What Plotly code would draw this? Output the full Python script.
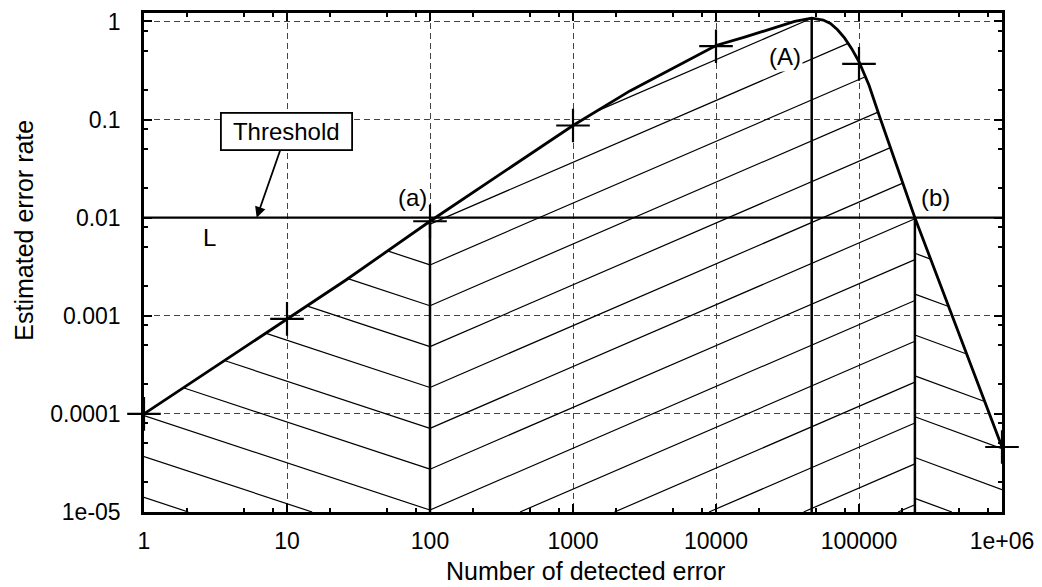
import numpy as np
import plotly.graph_objects as go

# ---------------- data ----------------
curve_x = [1, 10, 26, 100, 500, 1000, 2500, 5600, 10000, 15850, 25100, 35500, 46700,
           56200, 63100, 70800, 79400, 89100, 100000, 117500, 140000, 246000, 1000000]
curve_y = [1e-4, 9.3e-4, 2.33e-3, 9.2e-3, 0.0444, 0.087, 0.196, 0.365, 0.569, 0.692,
           0.851, 1.0, 1.079, 1.035, 0.955, 0.822, 0.676, 0.525, 0.389, 0.224, 0.105,
           0.01, 4.6e-5]

marker_x = [1, 10, 100, 1000, 10000, 100000, 1000000]
marker_y = [1e-4, 9.3e-4, 9.2e-3, 0.087, 0.56, 0.37, 4.6e-5]

threshold = 0.01
x_a = 100        # (a) lower crossing
x_A = 46700      # (A) maximum
x_b = 246000     # (b) upper crossing

x_ticks = [1, 10, 100, 1000, 10000, 100000, 1000000]
x_ticklabels = ["1", "10", "100", "1000", "10000", "100000", "1e+06"]
y_ticks = [1e-5, 1e-4, 1e-3, 1e-2, 1e-1, 1]
y_ticklabels = ["1e-05", "0.0001", "0.001", "0.01", "0.1", "1"]

X_MIN, X_MAX = 1, 1e6
Y_MIN, Y_MAX = 1e-5, 1.22

# ---------------- hatching (computed from the curve) ----------------
cu = np.log10(curve_x)
cv = np.log10(curve_y)
ylo = np.log10(Y_MIN)
SPACING = 0.4164


def hatch(u0, u1, slope, anchor_u, anchor_v):
    U = np.linspace(u0, u1, 6000)
    top = np.interp(U, cu, cv)
    xs, ys = [], []
    for k in range(-40, 40):
        V = anchor_v + slope * (U - anchor_u) + k * SPACING
        mask = (V >= ylo - 1e-9) & (V <= top)
        if mask.sum() < 2:
            continue
        idx = np.where(mask)[0]
        breaks = np.where(np.diff(idx) > 1)[0]
        starts = np.concatenate([[idx[0]], idx[breaks + 1]])
        ends = np.concatenate([idx[breaks], [idx[-1]]])
        for s, e in zip(starts, ends):
            if e - s < 2:
                continue
            xs += [10 ** U[s], 10 ** U[e], None]
            ys += [10 ** V[s], 10 ** V[e], None]
    return xs, ys


ua, ub = np.log10(x_a), np.log10(x_b)
h1x, h1y = hatch(0, ua, -0.481, ua, ylo + 0.02)
h2x, h2y = hatch(ua, ub, 0.630, ua, ylo + 0.02)
h3x, h3y = hatch(ub, 6, -0.536, ub, -2.363)

hx = h1x + h2x + h3x
hy = h1y + h2y + h3y

peak_y = 10 ** float(np.interp(np.log10(x_A), cu, cv))
a_y = 10 ** float(np.interp(ua, cu, cv))

fig = go.Figure()
fig.add_trace(go.Scatter(x=hx, y=hy, mode="lines",
                         line=dict(color="black", width=1.2), hoverinfo="skip"))
fig.add_trace(go.Scatter(x=[x_a, x_a, None, x_A, x_A, None, x_b, x_b],
                         y=[Y_MIN, a_y, None, Y_MIN, peak_y, None, Y_MIN, threshold],
                         mode="lines", line=dict(color="black", width=2.5)))
fig.add_trace(go.Scatter(x=[X_MIN, X_MAX], y=[threshold, threshold], mode="lines",
                         line=dict(color="black", width=2.2)))
fig.add_trace(go.Scatter(x=curve_x, y=curve_y, mode="lines",
                         line=dict(color="black", width=2.8)))
fig.add_trace(go.Scatter(x=marker_x, y=marker_y, mode="markers", cliponaxis=False,
                         marker=dict(symbol="cross-thin", size=24,
                                     line=dict(color="black", width=2.2))))

minor_x = [m * 10 ** d for d in range(0, 6) for m in (2, 5, 8)]
minor_y = [m * 10 ** d for d in range(-5, 0) for m in (2, 5, 8)]

font = "Liberation Sans, Arial, sans-serif"

common = dict(ticks="inside", ticklen=8, tickwidth=1.5, tickcolor="black",
              showline=True, linecolor="black", linewidth=2.5, mirror="allticks",
              showgrid=True, gridcolor="#444444", gridwidth=1, griddash="6px,4px",
              zeroline=False, tickfont=dict(family=font, size=23, color="black"))

fig.update_xaxes(type="log", range=[0, 6], tickvals=x_ticks, ticktext=x_ticklabels,
                 ticklabelstandoff=7,
                 minor=dict(tickvals=minor_x, ticks="inside", ticklen=4,
                            tickcolor="black", tickwidth=1.5, showgrid=False), **common)
fig.update_yaxes(type="log", range=[-5, np.log10(Y_MAX)], tickvals=y_ticks,
                 ticktext=y_ticklabels, ticklabelstandoff=16,
                 minor=dict(tickvals=minor_y, ticks="inside", ticklen=4,
                            tickcolor="black", tickwidth=1.5, showgrid=False), **common)

afont = dict(family=font, size=24, color="black")
L = np.log10
annotations = [
    dict(x=L(76), y=L(0.0159), xref="x", yref="y", text="(a)", showarrow=False, font=afont),
    dict(x=4.483, y=-0.36, xref="x", yref="y", text="(A)", showarrow=False, font=afont,
         bgcolor="white", borderpad=1),
    dict(x=5.538, y=-1.798, xref="x", yref="y", text="(b)", showarrow=False, font=afont),
    dict(x=0.4615, y=-2.204, xref="x", yref="y", text="L", showarrow=False, font=afont),
    dict(x=0.788, y=-2.0, xref="x", yref="y", text="Threshold", showarrow=True,
         ax=30, ay=-86, arrowhead=2, arrowsize=1.2, arrowwidth=1.8, arrowcolor="black",
         font=afont, bgcolor="white", bordercolor="black", borderwidth=1.8,
         borderpad=2, width=125, height=31),
    dict(x=(24 - 144) / 858, y=(512 - 228) / 502, xref="paper", yref="paper",
         text="Estimated error rate", textangle=-90, showarrow=False,
         font=dict(family=font, size=25, color="black"), xanchor="center", yanchor="middle"),
    dict(x=(585 - 144) / 858, y=(512 - 571) / 502, xref="paper", yref="paper",
         text="Number of detected error", showarrow=False,
         font=dict(family=font, size=25, color="black"), xanchor="center", yanchor="middle"),
]

# the page body has an 8px default margin, so the figure is sized and offset to fit
fig.update_layout(width=1034, height=579, margin=dict(l=136, r=40, t=2, b=75),
                  plot_bgcolor="white", paper_bgcolor="white", showlegend=False,
                  annotations=annotations)

fig.write_html("out.html")
